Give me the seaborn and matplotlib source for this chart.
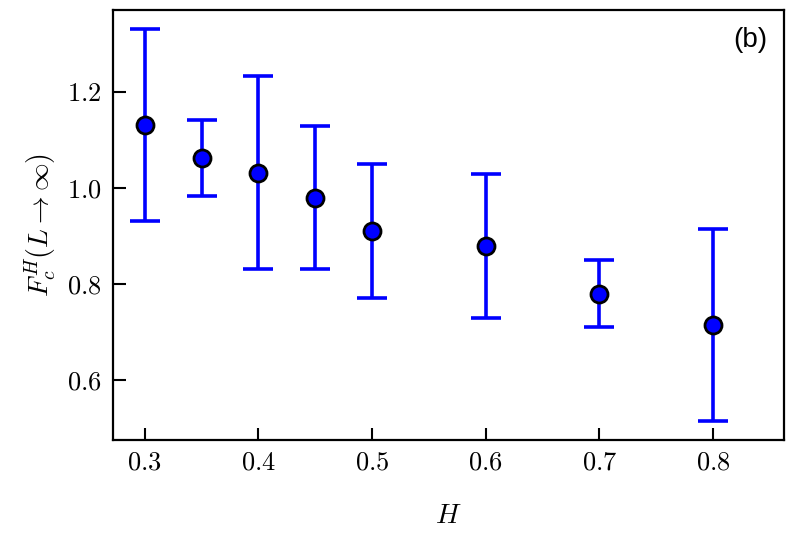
"""Critical field extrapolation vs H, with error bars."""

import matplotlib
matplotlib.use("Agg")
import matplotlib.pyplot as plt
import pandas as pd
import seaborn as sns

H_VALUES = [0.3, 0.35, 0.4, 0.45, 0.5, 0.6, 0.7, 0.8]
FC_MEAN = [1.132, 1.062, 1.031, 0.979, 0.910, 0.880, 0.780, 0.715]
FC_UPPER = [1.331, 1.142, 1.233, 1.129, 1.050, 1.029, 0.850, 0.915]
FC_LOWER = [0.932, 0.983, 0.832, 0.831, 0.771, 0.730, 0.710, 0.515]

sns.set_style("ticks", {"axes.edgecolor": "black", "xtick.color": "black",
                        "ytick.color": "black", "text.color": "black",
                        "axes.labelcolor": "black"})
plt.rcParams["font.family"] = ["serif"]
plt.rcParams["font.serif"] = ["cmr10", "DejaVu Serif"]
plt.rcParams["mathtext.fontset"] = "cm"
plt.rcParams["axes.formatter.use_mathtext"] = True

df = pd.DataFrame({"H": H_VALUES, "Fc": FC_MEAN,
                   "upper": FC_UPPER, "lower": FC_LOWER})
yerr = [df["Fc"] - df["lower"], df["upper"] - df["Fc"]]

fig = plt.figure(figsize=(7.94, 5.37), dpi=100)
ax = fig.add_axes([0.1423, 0.1806, 0.8451, 0.8008])

ax.errorbar(df["H"], df["Fc"], yerr=yerr, fmt="none", ecolor="#0000ff",
            elinewidth=2.6, capsize=11, capthick=2.6, zorder=2)
sns.scatterplot(data=df, x="H", y="Fc", ax=ax, color="#0000ff",
                edgecolor="black", linewidth=2.0, s=150, zorder=3)

ax.set_xlim(0.272, 0.8625)
ax.set_ylim(0.475, 1.371)
ax.set_xticks([0.3, 0.4, 0.5, 0.6, 0.7, 0.8])
ax.set_yticks([0.6, 0.8, 1.0, 1.2])
ax.tick_params(direction="in", length=9, width=1.5, labelsize=19, pad=8)
for spine in ax.spines.values():
    spine.set_linewidth(1.6)

ax.set_xlabel(r"$H$", fontsize=20, labelpad=20)
ax.set_ylabel(r"$F_c^H(L\to\infty)$", fontsize=20, labelpad=6)
ax.text(0.975, 0.96, "(b)", transform=ax.transAxes, ha="right", va="top",
        fontsize=20, family=["Liberation Sans", "DejaVu Sans"])

fig.savefig("out.png", dpi=100)
